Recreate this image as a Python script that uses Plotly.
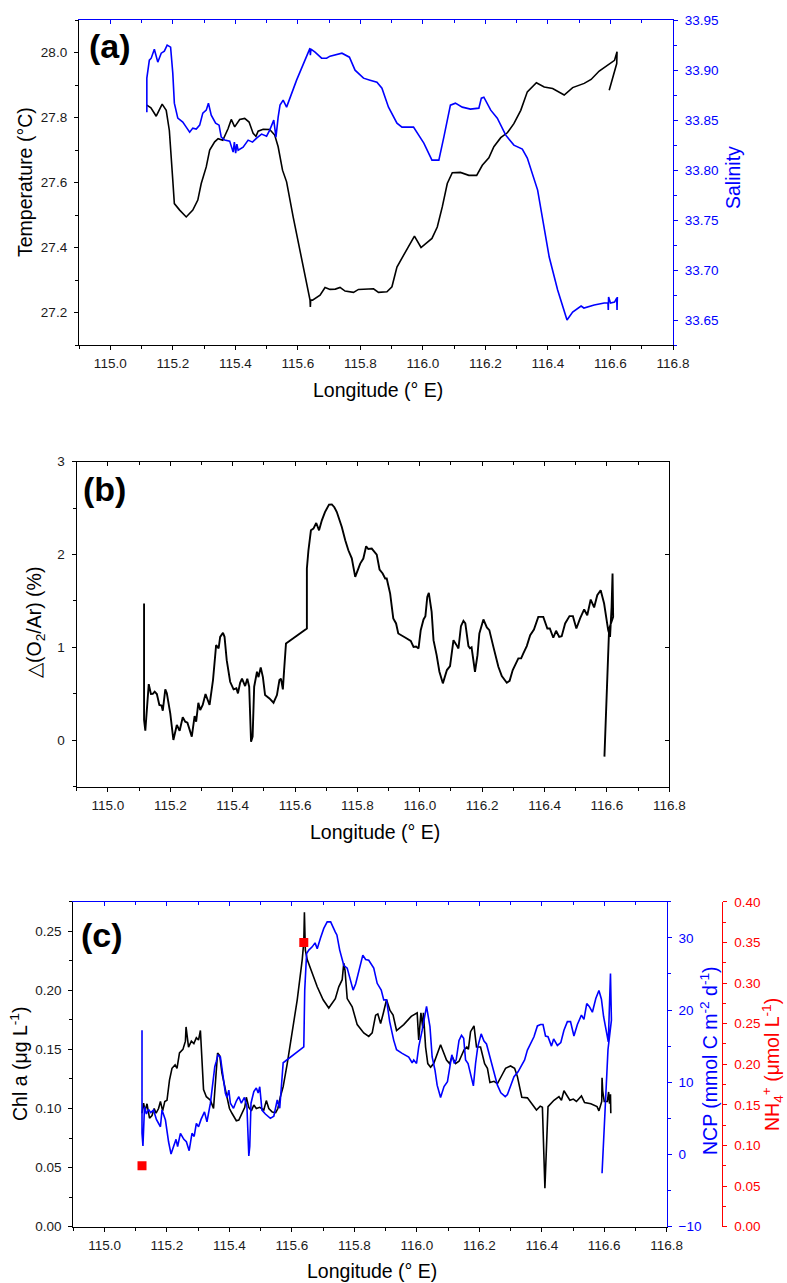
import plotly.graph_objects as go

# ---------------- data ----------------
temp_lon = [115.117, 115.13, 115.147, 115.166, 115.179, 115.189, 115.2, 115.205, 115.222, 115.243,
            115.264, 115.28, 115.291, 115.307, 115.318, 115.334, 115.345, 115.36, 115.377, 115.387,
            115.398, 115.414, 115.43, 115.444, 115.457, 115.466, 115.473, 115.489, 115.51, 115.526,
            115.537, 115.551, 115.564, 115.585, 115.639, 115.64, 115.641, 115.647, 115.671, 115.687,
            115.703, 115.72, 115.735, 115.751, 115.778, 115.794, 115.821, 115.842, 115.858, 115.885,
            115.901, 115.917, 115.938, 115.973, 115.994, 116.008, 116.029, 116.046, 116.062, 116.078,
            116.094, 116.12, 116.147, 116.172, 116.19, 116.211, 116.227, 116.249, 116.27, 116.291,
            116.313, 116.334, 116.363, 116.388, 116.415, 116.452, 116.479, 116.516, 116.538, 116.564,
            116.591, 116.613, 116.621, 116.62, 116.596]
temp_val = [27.838, 27.83, 27.804, 27.841, 27.822, 27.76, 27.607, 27.535, 27.515, 27.494,
            27.515, 27.546, 27.597, 27.648, 27.70, 27.725, 27.735, 27.730, 27.766, 27.794,
            27.771, 27.794, 27.797, 27.786, 27.751, 27.742, 27.758, 27.764, 27.763, 27.746,
            27.710, 27.638, 27.602, 27.494, 27.238, 27.217, 27.238, 27.238, 27.253, 27.277,
            27.271, 27.272, 27.277, 27.266, 27.262, 27.271, 27.273, 27.273, 27.262, 27.264,
            27.279, 27.340, 27.376, 27.435, 27.400, 27.412, 27.428, 27.463, 27.525, 27.597,
            27.630, 27.631, 27.622, 27.622, 27.653, 27.676, 27.710, 27.738, 27.753, 27.781,
            27.822, 27.879, 27.907, 27.894, 27.889, 27.869, 27.892, 27.905, 27.917, 27.943,
            27.961, 27.976, 28.002, 27.966, 27.884]

sal_lon = [115.117, 115.117, 115.125, 115.131, 115.141, 115.152, 115.163, 115.173, 115.182, 115.193,
           115.2, 115.205, 115.216, 115.232, 115.243, 115.254, 115.264, 115.275, 115.286, 115.296,
           115.307, 115.314, 115.323, 115.337, 115.348, 115.355, 115.366, 115.382, 115.393, 115.397,
           115.401, 115.405, 115.409, 115.425, 115.441, 115.455, 115.468, 115.484, 115.5, 115.51,
           115.523, 115.53, 115.537, 115.543, 115.553, 115.564, 115.596, 115.639, 115.64, 115.642,
           115.655, 115.676, 115.692, 115.703, 115.741, 115.765, 115.783, 115.81, 115.831, 115.853,
           115.869, 115.89, 115.917, 115.933, 115.97, 116.003, 116.029, 116.051, 116.067, 116.088,
           116.104, 116.126, 116.152, 116.179, 116.187, 116.195, 116.217, 116.238, 116.265, 116.291,
           116.318, 116.334, 116.367, 116.404, 116.431, 116.461, 116.479, 116.506, 116.515, 116.548,
           116.58, 116.592, 116.593, 116.594, 116.6, 116.613, 116.62, 116.621, 116.622]
sal_val = [33.858, 33.892, 33.910, 33.912, 33.921, 33.908, 33.917, 33.919, 33.925, 33.923,
           33.897, 33.867, 33.852, 33.848, 33.843, 33.838, 33.842, 33.841, 33.845, 33.857,
           33.860, 33.867, 33.855, 33.847, 33.845, 33.833, 33.830, 33.829, 33.818, 33.828,
           33.817, 33.826, 33.820, 33.823, 33.830, 33.828, 33.832, 33.836, 33.834, 33.840,
           33.850, 33.833, 33.853, 33.865, 33.870, 33.863, 33.890, 33.922, 33.915, 33.921,
           33.918, 33.912, 33.912, 33.914, 33.917, 33.913, 33.900, 33.892, 33.890, 33.888,
           33.882, 33.863, 33.847, 33.843, 33.843, 33.827, 33.810, 33.810, 33.833, 33.865,
           33.867, 33.863, 33.861, 33.862, 33.872, 33.873, 33.860, 33.852, 33.835, 33.825,
           33.821, 33.812, 33.780, 33.713, 33.680, 33.650, 33.658, 33.664, 33.662, 33.665,
           33.667, 33.667, 33.660, 33.673, 33.667, 33.668, 33.672, 33.660, 33.673]

o2_lon = [115.116, 115.116, 115.12, 115.131, 115.138, 115.144, 115.15, 115.157, 115.165, 115.172,
          115.176, 115.184, 115.189, 115.2, 115.21, 115.221, 115.23, 115.24, 115.248, 115.255,
          115.269, 115.278, 115.283, 115.29, 115.296, 115.304, 115.313, 115.326, 115.337, 115.347,
          115.355, 115.36, 115.369, 115.374, 115.381, 115.392, 115.403, 115.412, 115.417, 115.424,
          115.43, 115.44, 115.447, 115.453, 115.459, 115.464, 115.469, 115.478, 115.483, 115.49,
          115.497, 115.504, 115.518, 115.531, 115.542, 115.55, 115.555, 115.561, 115.565, 115.571,
          115.638, 115.638, 115.643, 115.651, 115.659, 115.668, 115.677, 115.686, 115.696, 115.709,
          115.718, 115.726, 115.734, 115.742, 115.75, 115.761, 115.771, 115.782, 115.793, 115.809,
          115.819, 115.828, 115.835, 115.846, 115.857, 115.862, 115.871, 115.881, 115.889, 115.894,
          115.905, 115.915, 115.924, 115.931, 115.953, 115.971, 115.98, 115.988, 115.996, 116.003,
          116.012, 116.018, 116.024, 116.029, 116.038, 116.044, 116.054, 116.063, 116.074, 116.087,
          116.097, 116.108, 116.117, 116.124, 116.132, 116.14, 116.146, 116.156, 116.161, 116.166,
          116.177, 116.185, 116.191, 116.204, 116.215, 116.223, 116.236, 116.252, 116.263, 116.279,
          116.288, 116.298, 116.316, 116.325, 116.332, 116.343, 116.354, 116.366, 116.38, 116.396,
          116.409, 116.417, 116.428, 116.437, 116.447, 116.455, 116.466, 116.48, 116.491, 116.502,
          116.514, 116.527, 116.537, 116.548, 116.559, 116.569, 116.58, 116.591, 116.604, 116.61,
          116.615, 116.618, 116.62, 116.607, 116.592]
o2_val = [1.473, 0.218, 0.103, 0.605, 0.498, 0.500, 0.523, 0.498, 0.380, 0.375,
          0.318, 0.548, 0.505, 0.290, 0.003, 0.165, 0.103, 0.247, 0.200, 0.189,
          0.039, 0.261, 0.200, 0.404, 0.326, 0.380, 0.498, 0.380, 0.648, 1.025,
          0.990, 1.114, 1.157, 1.114, 0.863, 0.630, 0.548, 0.560, 0.505, 0.619,
          0.663, 0.584, 0.663, 0.577, -0.015, 0.039, 0.577, 0.738, 0.680, 0.785,
          0.680, 0.487, 0.451, 0.404, 0.487, 0.648, 0.663, 0.548, 0.756, 1.043,
          1.204, 1.850, 2.046, 2.261, 2.280, 2.340, 2.261, 2.369, 2.458, 2.538,
          2.540, 2.510, 2.458, 2.387, 2.297, 2.154, 2.046, 1.960, 1.760, 1.903,
          1.957, 2.089, 2.060, 2.064, 2.017, 2.000, 1.839, 1.796, 1.742, 1.742,
          1.580, 1.312, 1.258, 1.150, 1.107, 1.071, 1.006, 1.010, 0.989, 1.186,
          1.301, 1.337, 1.544, 1.587, 1.383, 1.078, 0.917, 0.738, 0.613, 0.756,
          0.799, 1.078, 1.030, 0.989, 1.229, 1.286, 1.260, 1.014, 0.990, 1.000,
          0.738, 0.917, 1.150, 1.301, 1.215, 1.186, 1.006, 0.792, 0.691, 0.619,
          0.640, 0.756, 0.882, 0.882, 0.935, 1.014, 1.132, 1.193, 1.329, 1.329,
          1.204, 1.204, 1.104, 1.179, 1.114, 1.120, 1.258, 1.337, 1.337, 1.204,
          1.312, 1.409, 1.347, 1.516, 1.430, 1.562, 1.616, 1.473, 1.186, 1.114,
          1.437, 1.796, 1.329, 1.200, -0.176]

chl_lon = [115.12, 115.125, 115.13, 115.136, 115.144, 115.152, 115.159, 115.165, 115.173, 115.179,
           115.186, 115.193, 115.2, 115.208, 115.216, 115.226, 115.232, 115.24, 115.251, 115.259,
           115.261, 115.269, 115.278, 115.286, 115.294, 115.301, 115.307, 115.312, 115.317, 115.326,
           115.339, 115.349, 115.356, 115.362, 115.369, 115.376, 115.387, 115.395, 115.40, 115.408,
           115.422, 115.43, 115.44, 115.449, 115.454, 115.462, 115.47, 115.478, 115.486, 115.497,
           115.51, 115.518, 115.526, 115.537, 115.548, 115.555, 115.563, 115.572, 115.585, 115.601,
           115.617, 115.633, 115.638, 115.64, 115.643, 115.649, 115.665, 115.681, 115.7, 115.718,
           115.739, 115.75, 115.761, 115.766, 115.77, 115.777, 115.793, 115.809, 115.83, 115.846,
           115.857, 115.868, 115.875, 115.884, 115.892, 115.903, 115.914, 115.924, 115.935, 115.958,
           115.982, 116.001, 116.006, 116.013, 116.019, 116.021, 116.028, 116.035, 116.044, 116.054,
           116.076, 116.095, 116.105, 116.113, 116.124, 116.135, 116.151, 116.16, 116.165, 116.172,
           116.183, 116.191, 116.204, 116.217, 116.226, 116.234, 116.247, 116.258, 116.274, 116.284,
           116.3, 116.313, 116.322, 116.336, 116.354, 116.37, 116.383, 116.395, 116.402, 116.41,
           116.42, 116.439, 116.455, 116.463, 116.471, 116.49, 116.501, 116.511, 116.527, 116.537,
           116.557, 116.577, 116.583, 116.592, 116.593, 116.595, 116.6, 116.61, 116.614, 116.617,
           116.62, 116.621]
chl_val = [0.096, 0.1045, 0.098, 0.104, 0.0918, 0.094, 0.100, 0.096, 0.100, 0.106,
           0.098, 0.106, 0.107, 0.124, 0.134, 0.137, 0.134, 0.147, 0.150, 0.157,
           0.169, 0.152, 0.157, 0.155, 0.160, 0.158, 0.166, 0.135, 0.116, 0.110,
           0.107, 0.100, 0.130, 0.147, 0.1445, 0.130, 0.116, 0.107, 0.100, 0.096,
           0.0897, 0.0903, 0.096, 0.101, 0.1095, 0.101, 0.098, 0.103, 0.100, 0.101,
           0.0988, 0.1067, 0.100, 0.097, 0.0965, 0.100, 0.110, 0.1185, 0.138, 0.164,
           0.192, 0.226, 0.241, 0.266, 0.234, 0.226, 0.2145, 0.203, 0.192, 0.185,
           0.193, 0.203, 0.209, 0.223, 0.217, 0.193, 0.186, 0.171, 0.164, 0.161,
           0.164, 0.179, 0.180, 0.172, 0.180, 0.192, 0.183, 0.179, 0.166, 0.171,
           0.178, 0.181, 0.158, 0.181, 0.168, 0.181, 0.152, 0.138, 0.135, 0.138,
           0.154, 0.141, 0.138, 0.144, 0.138, 0.140, 0.1496, 0.152, 0.150, 0.165,
           0.170, 0.152, 0.152, 0.138, 0.134, 0.122, 0.123, 0.121, 0.129, 0.134,
           0.136, 0.134, 0.127, 0.1095, 0.109, 0.103, 0.0988, 0.102, 0.101, 0.0325,
           0.1016, 0.107, 0.110, 0.107, 0.115, 0.107, 0.108, 0.106, 0.1107, 0.105,
           0.104, 0.1016, 0.098, 0.106, 0.126, 0.115, 0.106, 0.106, 0.114, 0.104,
           0.112, 0.096]

ncp_lon = [115.12, 115.12, 115.123, 115.128, 115.134, 115.141, 115.148, 115.157, 115.166, 115.173,
           115.179, 115.184, 115.195, 115.205, 115.213, 115.221, 115.229, 115.234, 115.243, 115.254,
           115.262, 115.271, 115.28, 115.287, 115.294, 115.301, 115.309, 115.32, 115.328, 115.339,
           115.347, 115.353, 115.358, 115.363, 115.371, 115.379, 115.387, 115.392, 115.398, 115.403,
           115.413, 115.422, 115.43, 115.438, 115.448, 115.456, 115.462, 115.465, 115.469, 115.478,
           115.486, 115.492, 115.497, 115.504, 115.515, 115.531, 115.542, 115.553, 115.561, 115.572,
           115.638, 115.641, 115.647, 115.654, 115.665, 115.674, 115.681, 115.691, 115.702, 115.713,
           115.724, 115.739, 115.744, 115.753, 115.766, 115.777, 115.785, 115.796, 115.804, 115.814,
           115.827, 115.836, 115.846, 115.862, 115.873, 115.886, 115.894, 115.903, 115.913, 115.926,
           115.935, 115.953, 115.974, 115.985, 115.99, 115.999, 116.006, 116.017, 116.031, 116.042,
           116.049, 116.058, 116.065, 116.076, 116.087, 116.098, 116.106, 116.112, 116.12, 116.126,
           116.135, 116.143, 116.15, 116.156, 116.164, 116.172, 116.181, 116.188, 116.195, 116.206,
           116.215, 116.223, 116.234, 116.247, 116.258, 116.269, 116.283, 116.29, 116.3, 116.311,
           116.324, 116.335, 116.345, 116.354, 116.364, 116.375, 116.386, 116.396, 116.404, 116.412,
           116.42, 116.431, 116.438, 116.45, 116.461, 116.471, 116.482, 116.492, 116.503, 116.514,
           116.527, 116.535, 116.544, 116.552, 116.562, 116.573, 116.583, 116.591, 116.598, 116.608,
           116.613, 116.62, 116.623, 116.612, 116.593]
ncp_val = [17.2, 2.93, 1.17, 6.6, 5.6, 6.25, 5.8, 6.15, 4.86, 4.4,
           3.84, 6.15, 4.77, 1.76, 0.06, 1.1, 2.1, 1.1, 2.93, 2.1,
           1.76, 0.52, 2.93, 2.5, 4.3, 3.84, 4.86, 5.9, 4.53, 7.1,
           10.07, 12.15, 12.9, 13.77, 13.5, 10.76, 8.46, 7.9, 8.9, 7.1,
           6.39, 7.4, 8.0, 7.1, 7.9, 6.6, -0.2, 1.1, 7.1, 8.7,
           9.2, 8.5, 9.38, 6.15, 5.6, 5.0, 5.3, 7.54, 6.4, 12.7,
           14.9, 22.76, 27.8, 28.3, 28.75, 29.3, 28.5, 29.9, 31.3, 32.2,
           32.2, 30.8, 30.4, 28.3, 26.2, 25.8, 24.4, 22.76, 23.6, 25.5,
           27.6, 27.0, 26.9, 25.8, 23.7, 22.76, 21.4, 21.4, 18.4, 15.8,
           14.5, 14.0, 13.5, 12.7, 13.1, 12.6, 14.9, 17.2, 20.5, 17.7,
           13.5, 11.7, 9.6, 7.9, 9.4, 10.07, 12.6, 13.8, 12.6, 13.1,
           15.8, 16.5, 16.1, 13.1, 12.6, 11.2, 9.5, 12.6, 14.9, 16.7,
           15.7, 15.3, 13.5, 11.2, 9.6, 8.55, 8.0, 8.3, 9.6, 10.76,
           11.45, 12.4, 13.1, 14.45, 15.3, 16.3, 17.8, 18.0, 18.0, 16.4,
           16.3, 15.0, 16.0, 15.1, 15.5, 17.2, 18.4, 18.4, 16.4, 18.0,
           19.3, 18.7, 20.9, 20.5, 19.7, 21.6, 22.7, 21.5, 19.07, 16.8,
           15.6, 25.07, 18.6, 14.5, -2.6]

nh4_lon = [115.12, 115.638]
nh4_val = [0.075, 0.35]

# ---------------- geometry helpers ----------------
W, H = 787, 1283
def fx(p):
    return p / W
def fy(p):
    return 1 - p / H

BLUE = "#0000ff"
RED = "#ff0000"
BLACK = "#000000"
FONT = "Arial, Liberation Sans, sans-serif"
TICKSIZE = 13.5
TICKFONT = dict(family=FONT, size=TICKSIZE, color="#1a1a1a")
XR = [114.9, 116.8]

def xax(domain, anchor, **kw):
    d = dict(domain=domain, anchor=anchor, range=XR, tick0=115.0, dtick=0.2, tickformat=".1f",
             ticks="outside", ticklen=4, tickwidth=1.2, tickcolor=BLACK,
             minor=dict(dtick=0.1, tick0=115.0, ticks="outside", ticklen=3, tickcolor=BLACK, tickwidth=1.2),
             showline=True, linecolor=BLACK, linewidth=1.3, showgrid=False, zeroline=False,
             tickfont=TICKFONT, ticklabelstandoff=2, automargin=False)
    d.update(kw)
    return d

def topax(over, anchor, color):
    return dict(overlaying=over, anchor=anchor, side="top", range=XR, tick0=115.0, dtick=0.2,
                ticks="inside", ticklen=4, tickwidth=1.2, tickcolor=color, showticklabels=False,
                minor=dict(dtick=0.1, tick0=115.0, ticks="inside", ticklen=3, tickcolor=color, tickwidth=1.2),
                showline=True, linecolor=color, linewidth=1.3, showgrid=False, zeroline=False,
                automargin=False)

def yax(domain, anchor, rng, tick0, dtick, mdtick, fmt, color=BLACK, **kw):
    d = dict(domain=domain, anchor=anchor, range=rng, tick0=tick0, dtick=dtick, tickformat=fmt,
             ticks="outside", ticklen=4, tickwidth=1.2, tickcolor=color,
             minor=dict(dtick=mdtick, tick0=tick0, ticks="outside", ticklen=3, tickcolor=color, tickwidth=1.2),
             showline=True, linecolor=color, linewidth=1.3, showgrid=False, zeroline=False,
             tickfont=dict(family=FONT, size=TICKSIZE, color=("#1a1a1a" if color == BLACK else color)),
             ticklabelstandoff=4, automargin=False)
    d.update(kw)
    return d

dom_a_x = [fx(79), fx(673)]
dom_a_y = [fy(345), fy(20)]
dom_b_x = [fx(76.7), fx(669.3)]
dom_b_y = [fy(786.7), fy(461.7)]
dom_c_x = [fx(73.3), fx(666.7)]
dom_c_y = [fy(1226.7), fy(901.7)]

fig = go.Figure()

# (a)
fig.add_trace(go.Scatter(x=temp_lon, y=temp_val, mode="lines", line=dict(color=BLACK, width=1.6),
                         xaxis="x", yaxis="y", showlegend=False))
fig.add_trace(go.Scatter(x=sal_lon, y=sal_val, mode="lines", line=dict(color=BLUE, width=1.6),
                         xaxis="x", yaxis="y2", showlegend=False))
fig.add_trace(go.Scatter(x=[None], y=[None], xaxis="x4", yaxis="y", showlegend=False, hoverinfo="skip"))

# (b)
fig.add_trace(go.Scatter(x=o2_lon, y=o2_val, mode="lines", line=dict(color=BLACK, width=1.9),
                         xaxis="x2", yaxis="y3", showlegend=False))
fig.add_trace(go.Scatter(x=[None], y=[None], xaxis="x5", yaxis="y3", showlegend=False, hoverinfo="skip"))
fig.add_trace(go.Scatter(x=[None], y=[None], xaxis="x2", yaxis="y7", showlegend=False, hoverinfo="skip"))

# (c)
fig.add_trace(go.Scatter(x=chl_lon, y=chl_val, mode="lines", line=dict(color=BLACK, width=1.6),
                         xaxis="x3", yaxis="y4", showlegend=False))
fig.add_trace(go.Scatter(x=ncp_lon, y=ncp_val, mode="lines", line=dict(color=BLUE, width=1.6),
                         xaxis="x3", yaxis="y5", showlegend=False))
fig.add_trace(go.Scatter(x=nh4_lon, y=nh4_val, mode="markers",
                         marker=dict(symbol="square", size=9, color=RED, line=dict(width=0)),
                         xaxis="x3", yaxis="y6", showlegend=False))
fig.add_trace(go.Scatter(x=[None], y=[None], xaxis="x6", yaxis="y4", showlegend=False, hoverinfo="skip"))

fig.update_layout(
    width=W, height=H, autosize=False, margin=dict(l=0, r=0, t=0, b=0, pad=0),
    paper_bgcolor="white", plot_bgcolor="white", showlegend=False,
    font=dict(family=FONT, color=BLACK),
    xaxis=xax(dom_a_x, "y"),
    xaxis2=xax(dom_b_x, "y3"),
    xaxis3=xax(dom_c_x, "y4"),
    xaxis4=topax("x", "y", BLUE),
    xaxis5=topax("x2", "y3", BLACK),
    xaxis6=topax("x3", "y4", BLUE),
    yaxis=yax(dom_a_y, "x", [27.1, 28.1], 27.2, 0.2, 0.1, ".1f"),
    yaxis2=yax(None, "x", [33.625, 33.9502], 33.65, 0.05, 0.025, ".2f", color=BLUE,
               overlaying="y", side="right"),
    yaxis3=yax(dom_b_y, "x2", [-0.5, 3.0001], 0, 1, 0.5, "d"),
    yaxis7=dict(overlaying="y3", anchor="x2", side="right", range=[-0.5, 3.0001], tick0=0, dtick=1,
                ticks="inside", ticklen=4, tickwidth=1.2, tickcolor=BLACK, showticklabels=False,
                showline=True, linecolor=BLACK, linewidth=1.3, showgrid=False, zeroline=False,
                automargin=False),
    yaxis4=yax(dom_c_y, "x3", [0, 0.275], 0, 0.05, 0.025, ".2f"),
    yaxis5=yax(None, "x3", [-10, 35], -10, 10, 5, "d", color=BLUE, overlaying="y4", side="right"),
    yaxis6=yax(None, "free", [0, 0.4001], 0, 0.05, 0.025, ".2f", color=RED, overlaying="y4",
               side="right", position=fx(722.3)),
)
for k in ("yaxis2", "yaxis5", "yaxis6"):
    fig.layout[k].domain = None

TITLE = 19.5
ann = []
def a(text, x, y, color=BLACK, size=TITLE, angle=0, bold=False):
    ann.append(dict(text=(f"<b>{text}</b>" if bold else text), x=fx(x), y=fy(y), xref="paper", yref="paper",
                    showarrow=False, textangle=angle, xanchor="center", yanchor="middle",
                    font=dict(family=FONT, size=size, color=color)))

a("(a)", 110, 46, size=34, bold=True)
a("(b)", 104.5, 489, size=34, bold=True)
a("(c)", 102, 935, size=34, bold=True)
a("Temperature (°C)", 25, 182, angle=-90)
a("Salinity", 733, 178, color=BLUE, angle=-90)
a("Longitude (° E)", 378, 390)
a("△(O<sub>2</sub>/Ar) (%)", 35, 623, angle=-90)
a("Longitude (° E)", 375, 832)
a("Chl a (μg L<sup>-1</sup>)", 19, 1064, angle=-90)
a("NCP (mmol C m<sup>-2</sup> d<sup>-1</sup>)", 709, 1061, color=BLUE, angle=-90)
a("NH<sub>4</sub><sup>+</sup> (μmol L<sup>-1</sup>)", 772, 1065, color=RED, angle=-90)
a("Longitude (° E)", 372, 1271)
fig.update_layout(annotations=ann)

fig.write_html(
    "out.html",
    config={"responsive": False, "displayModeBar": False},
    post_script=("document.body.style.margin='0';document.body.style.padding='0';"
                 "document.documentElement.style.overflow='hidden';"
                 "Plotly.relayout('{plot_id}', {width: 787, height: 1283, autosize: false});"),
)
